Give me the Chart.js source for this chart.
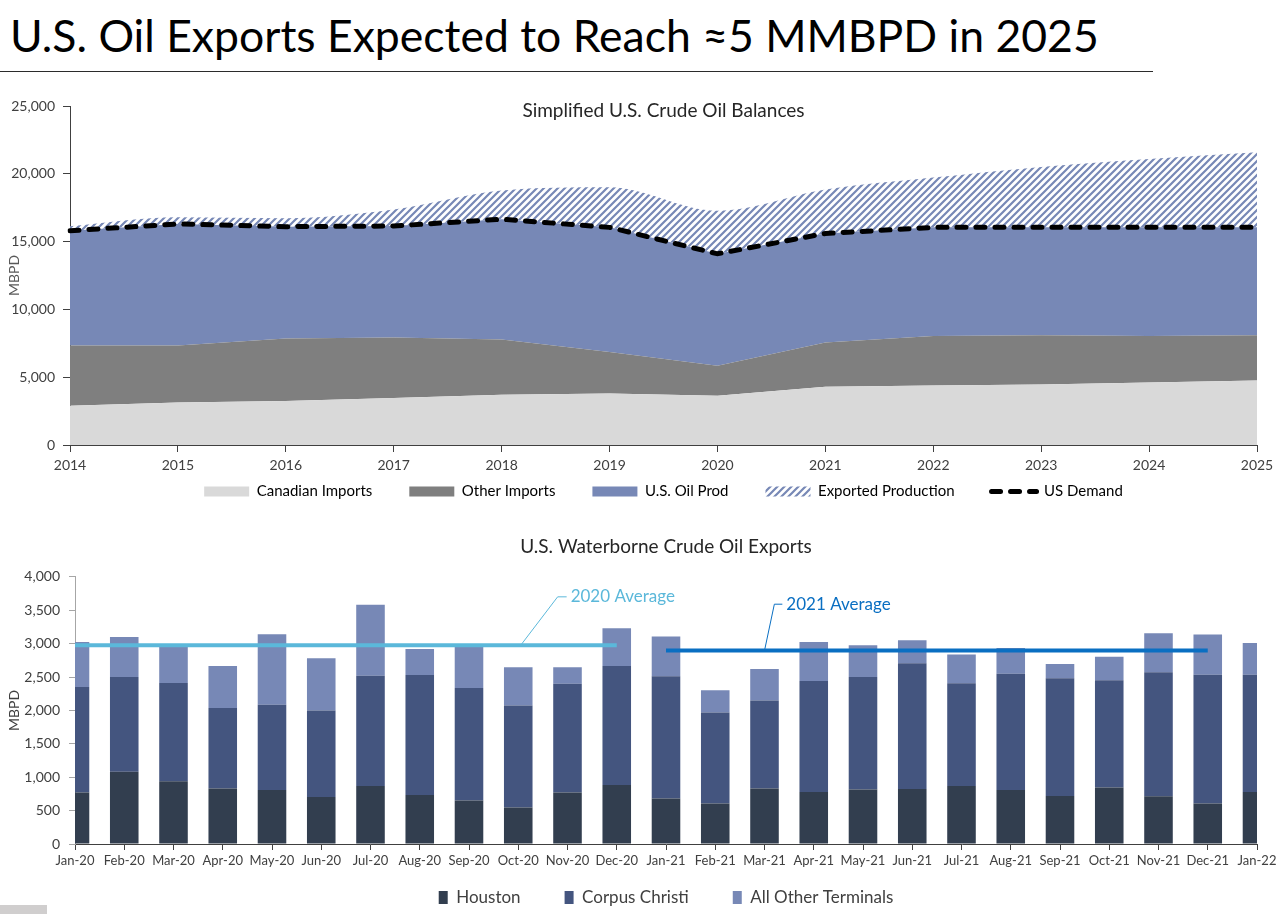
<!DOCTYPE html>
<html>
<head>
<meta charset="utf-8">
<script src="https://cdn.jsdelivr.net/npm/chart.js@4.4.0/dist/chart.umd.min.js"></script>
<style>
  html, body { margin: 0; padding: 0; background: #fff; overflow: hidden; }
  #page { position: relative; width: 1280px; height: 914px; overflow: hidden; font-family: Lato, "Open Sans", sans-serif; }
  h1 { position: absolute; left: 10px; top: 8px; margin: 0; font-weight: normal; font-size: 44.5px; color: #000; white-space: nowrap; }
  #rule { position: absolute; left: 0; top: 71px; width: 1153px; height: 0; border-top: 1.5px solid #2b2b2b; }
  #balances { position: absolute; left: 0; top: 88px; }
  #exports { position: absolute; left: 0; top: 530px; }
  #tag { position: absolute; left: 0; top: 905px; width: 47px; height: 9px; background: #d0cece; }
</style>
</head>
<body>
<div id="page">
  <h1>U.S. Oil Exports Expected to Reach ≈5 MMBPD in 2025</h1>
  <div id="rule"></div>
  <canvas id="balances" width="1280" height="421"></canvas>
  <canvas id="exports" width="1280" height="386"></canvas>
  <div id="tag"></div>
</div>
<script>
// Simplified U.S. crude oil balances (MBPD), stacked segments
const years = ['2014', '2015', '2016', '2017', '2018', '2019', '2020', '2021', '2022', '2023', '2024', '2025'];
const canadianImports = [2900, 3140, 3240, 3460, 3700, 3800, 3630, 4290, 4390, 4460, 4610, 4760];
const otherImports = [4435, 4195, 4610, 4460, 4075, 3050, 2210, 3265, 3655, 3635, 3435, 3335];
const usOilProd = [8465, 8965, 8250, 8230, 8875, 9200, 8260, 8045, 8005, 7955, 8005, 7955];
const exportedProd = [340, 500, 630, 1220, 2120, 2960, 3170, 3240, 3670, 4460, 5050, 5540];
const usDemand = [15800, 16300, 16100, 16150, 16650, 16050, 14100, 15600, 16050, 16050, 16050, 16050];

// U.S. waterborne crude exports by terminal (MBPD)
const months = ['Jan-20', 'Feb-20', 'Mar-20', 'Apr-20', 'May-20', 'Jun-20', 'Jul-20', 'Aug-20', 'Sep-20', 'Oct-20', 'Nov-20', 'Dec-20',
  'Jan-21', 'Feb-21', 'Mar-21', 'Apr-21', 'May-21', 'Jun-21', 'Jul-21', 'Aug-21', 'Sep-21', 'Oct-21', 'Nov-21', 'Dec-21', 'Jan-22'];
const houston = [770, 1080, 940, 830, 810, 705, 870, 735, 650, 545, 770, 885, 680, 605, 830, 780, 815, 825, 870, 810, 720, 845, 715, 605, 780];
const corpusChristi = [1580, 1420, 1470, 1205, 1275, 1295, 1650, 1795, 1685, 1530, 1630, 1780, 1830, 1365, 1320, 1660, 1685, 1880, 1535, 1740, 1760, 1605, 1855, 1930, 1755];
const otherTerminals = [675, 600, 560, 630, 1055, 780, 1060, 390, 625, 570, 245, 565, 595, 330, 470, 585, 475, 345, 430, 385, 215, 355, 585, 600, 475];
const avg2020 = 2975;
const avg2021 = 2895;

const FONT = 'Lato, "Open Sans", sans-serif';
Chart.defaults.font.family = FONT;
Chart.defaults.color = '#404040';
Chart.defaults.animation = false;

function hatchPattern(color) {
  const c = document.createElement('canvas');
  c.width = 7; c.height = 7;
  const g = c.getContext('2d');
  g.fillStyle = '#fff';
  g.fillRect(0, 0, 7, 7);
  g.strokeStyle = color;
  g.lineWidth = 2.2;
  g.beginPath();
  g.moveTo(-1, 8); g.lineTo(8, -1);
  g.moveTo(-2, 2); g.lineTo(2, -2);
  g.moveTo(5, 9); g.lineTo(9, 5);
  g.stroke();
  return g.createPattern(c, 'repeat');
}

// keep the x axis thin so the legend sits close, but don't clip its labels
function thinAxis(h) {
  return s => {
    s.height = h;
    s._computeLabelArea = () => undefined;
  };
}

// title drawn inside the plot area
const insideTitle = {
  id: 'insideTitle',
  afterDraw(chart, args, opts) {
    const { ctx, chartArea } = chart;
    ctx.save();
    ctx.font = opts.font;
    ctx.fillStyle = opts.color;
    ctx.textAlign = 'center';
    ctx.textBaseline = 'middle';
    ctx.fillText(opts.text, (chartArea.left + chartArea.right) / 2, chartArea.top + opts.offset);
    ctx.restore();
  }
};

// leader lines + labels for the average lines
const callouts = {
  id: 'callouts',
  afterDatasetsDraw(chart, args, opts) {
    const { ctx, scales: { x, y } } = chart;
    opts.items.forEach(it => {
      const x0 = x.getPixelForValue(it.from), y0 = y.getPixelForValue(it.value);
      const x1 = x.getPixelForValue(it.elbow), y1 = y.getPixelForValue(it.labelAt);
      ctx.save();
      ctx.strokeStyle = it.color;
      ctx.lineWidth = 1;
      ctx.beginPath();
      ctx.moveTo(x0, y0);
      ctx.lineTo(x1, y1);
      ctx.lineTo(x1 + it.arm, y1);
      ctx.stroke();
      ctx.font = '17px ' + FONT;
      ctx.fillStyle = it.color;
      ctx.textBaseline = 'middle';
      ctx.fillText(it.text, x1 + it.arm + 4, y1);
      ctx.restore();
    });
  }
};

const hatch = hatchPattern('#7788b6');
const axisColor = '#404040';

new Chart(document.getElementById('balances'), {
  type: 'line',
  data: {
    labels: years,
    datasets: [
      { label: 'Canadian Imports', data: canadianImports, backgroundColor: '#d9d9d9', borderWidth: 0, fill: 'origin', pointRadius: 0, legendStyle: 'rect' },
      { label: 'Other Imports', data: otherImports, backgroundColor: '#7f7f7f', borderWidth: 0, fill: '-1', pointRadius: 0, legendStyle: 'rect' },
      { label: 'U.S. Oil Prod', data: usOilProd, backgroundColor: '#7788b6', borderWidth: 0, fill: '-1', pointRadius: 0, legendStyle: 'rect' },
      { label: 'Exported Production', data: exportedProd, backgroundColor: hatch, borderWidth: 0, fill: '-1', pointRadius: 0,
        cubicInterpolationMode: 'monotone', legendStyle: 'rect' },
      { label: 'US Demand', data: usDemand, stack: 'demand', order: 0, borderColor: '#000', borderWidth: 5, borderDash: [9, 10],
        borderCapStyle: 'round', fill: false, pointRadius: 0, legendStyle: 'line' }
    ].map((d, i) => (i < 4 ? Object.assign({ order: 1 }, d) : d))
  },
  plugins: [insideTitle],
  options: {
    responsive: false,
    layout: { padding: { left: 0, right: 23, top: 18, bottom: 0 } },
    scales: {
      x: {
        offset: false,
        grid: { display: true, drawOnChartArea: false, drawTicks: true, tickLength: 7, tickColor: axisColor, offset: false },
        border: { display: true, color: axisColor, width: 1 },
        ticks: { font: { size: 14 }, color: '#404040', padding: 5, maxRotation: 0 },
        afterFit: thinAxis(2)
      },
      y: {
        stacked: true,
        min: 0, max: 25000,
        ticks: { stepSize: 5000, font: { size: 14 }, color: '#404040', padding: 8 },
        grid: { display: true, drawOnChartArea: false, drawTicks: true, tickLength: 7, tickColor: axisColor },
        border: { display: true, color: axisColor, width: 1 },
        title: { display: true, text: 'MBPD', font: { size: 14 }, color: '#595959', padding: { top: 6, bottom: 0 } },
        afterFit: s => { s.width = 70; }
      }
    },
    plugins: {
      insideTitle: { text: 'Simplified U.S. Crude Oil Balances', font: '19px ' + FONT, color: '#262626', offset: 5 },
      tooltip: { enabled: false },
      legend: {
        position: 'bottom',
        fullSize: false,
        labels: {
          usePointStyle: true,
          pointStyleWidth: 45,
          boxHeight: 10,
          padding: 37,
          font: { size: 15 },
          color: '#595959',
          generateLabels: chart => chart.data.datasets.map((d, i) => ({
            text: d.label,
            datasetIndex: i,
            fillStyle: d.backgroundColor || 'transparent',
            strokeStyle: d.borderColor || 'transparent',
            lineWidth: d.legendStyle === 'line' ? 5 : 0,
            lineDash: d.borderDash || [],
            lineCap: 'round',
            pointStyle: d.legendStyle,
            hidden: false
          }))
        },
        sort: (a, b) => a.datasetIndex - b.datasetIndex
      }
    }
  }
});

const avgLine = (value, from, to) => months.map((m, i) => (i >= from && i <= to ? value : null));

new Chart(document.getElementById('exports'), {
  type: 'bar',
  data: {
    labels: months,
    datasets: [
      { label: 'Houston', data: houston, backgroundColor: '#323e4f', order: 1, clip: 0 },
      { label: 'Corpus Christi', data: corpusChristi, backgroundColor: '#44557f', order: 1, clip: 0 },
      { label: 'All Other Terminals', data: otherTerminals, backgroundColor: '#7788b6', order: 1, clip: 0 },
      { type: 'line', label: '2020 Average', data: avgLine(avg2020, 0, 11), stack: 'avg20', order: 0,
        borderColor: '#5bb8da', borderWidth: 4, pointRadius: 0, fill: false, clip: 0 },
      { type: 'line', label: '2021 Average', data: avgLine(avg2021, 12, 23), stack: 'avg21', order: 0,
        borderColor: '#0a6fc2', borderWidth: 4, pointRadius: 0, fill: false, clip: 0 }
    ]
  },
  plugins: [callouts],
  options: {
    responsive: false,
    categoryPercentage: 0.58,
    barPercentage: 1,
    layout: { padding: { left: 0, right: 23, top: 0, bottom: 0 } },
    scales: {
      x: {
        stacked: true,
        offset: false,
        grid: { display: true, drawOnChartArea: false, drawTicks: true, tickLength: 6, tickColor: axisColor, offset: false },
        border: { display: true, color: axisColor, width: 1 },
        ticks: { font: { size: 13 }, color: '#404040', padding: 3, maxRotation: 0, autoSkip: false },
        afterFit: thinAxis(1)
      },
      y: {
        stacked: true,
        min: 0, max: 4000,
        ticks: { stepSize: 500, font: { size: 14 }, color: '#404040', padding: 9 },
        grid: { display: true, drawOnChartArea: false, drawTicks: true, tickLength: 6, tickColor: '#a6a6a6' },
        border: { display: true, color: '#a6a6a6', width: 1 },
        title: { display: true, text: 'MBPD', font: { size: 14 }, color: '#404040', padding: { top: 6, bottom: 0 } },
        afterFit: s => { s.width = 75; }
      }
    },
    plugins: {
      title: {
        display: true,
        fullSize: false,
        text: 'U.S. Waterborne Crude Oil Exports',
        font: { size: 19, weight: 'normal' },
        color: '#262626',
        padding: { top: 5, bottom: 19 }
      },
      tooltip: { enabled: false },
      legend: {
        position: 'bottom',
        fullSize: false,
        labels: {
          boxWidth: 9,
          boxHeight: 13,
          padding: 44,
          font: { size: 17 },
          color: '#404040',
          filter: item => item.datasetIndex < 3
        }
      },
      callouts: {
        items: [
          { text: '2020 Average', color: '#5bb8da', from: 9.05, value: avg2020, elbow: 9.8, labelAt: 3700, arm: 9 },
          { text: '2021 Average', color: '#0a6fc2', from: 14.0, value: avg2021, elbow: 14.2, labelAt: 3590, arm: 8 }
        ]
      }
    }
  }
});
</script>
</body>
</html>
